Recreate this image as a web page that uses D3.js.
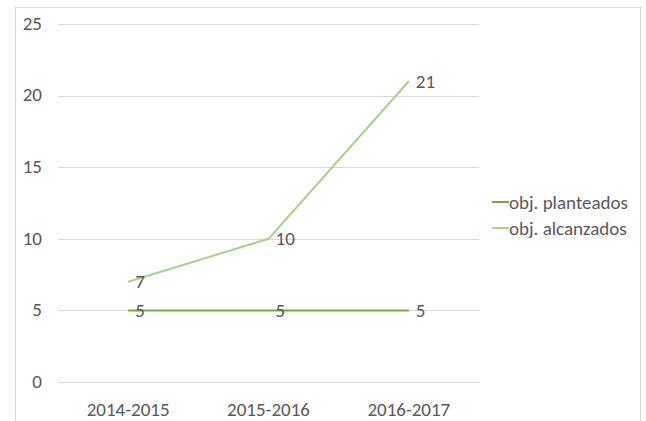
<!DOCTYPE html>
<meta charset="utf-8">
<script src="https://d3js.org/d3.v7.min.js"></script>
<style>
  body { margin: 0; background: #fff; }
  text { font-family: Carlito, Lato, "Liberation Sans", sans-serif; fill: #595959; }
</style>
<div id="chart"></div>
<script>
  // data
  var categories = ["2014-2015", "2015-2016", "2016-2017"];
  var planteados = [5, 5, 5];
  var alcanzados = [7, 10, 21];
  var seriesNames = ["obj. planteados", "obj. alcanzados"];
  var yTicks = [0, 5, 10, 15, 20, 25];

  var W = 646, H = 421, fs = 19;
  var svg = d3.select("#chart").append("svg")
    .attr("width", W).attr("height", H);

  // chart frame
  svg.append("rect")
    .attr("x", 15.5).attr("y", 7.5)
    .attr("width", 625).attr("height", 430)
    .attr("fill", "#fff").attr("stroke", "#d9d9d9");

  var m = { left: 58, right: 479, top: 24, bottom: 382 };

  var x = d3.scalePoint().domain(categories).range([m.left, m.right]).padding(0.5);
  var y = d3.scaleLinear().domain([0, 25]).range([m.bottom, m.top]);

  // grid
  svg.append("g").selectAll("line")
    .data(yTicks).enter().append("line")
    .attr("x1", m.left).attr("x2", m.right)
    .attr("y1", function(d) { return Math.round(y(d)) + 0.5; })
    .attr("y2", function(d) { return Math.round(y(d)) + 0.5; })
    .attr("stroke", "#d9d9d9").attr("stroke-width", 1);

  // y labels
  svg.append("g").selectAll("text")
    .data(yTicks).enter().append("text")
    .attr("x", 42).attr("y", function(d) { return y(d); })
    .attr("dy", "0.3em").attr("text-anchor", "end")
    .attr("font-size", fs)
    .text(function(d) { return d; });

  // x labels
  svg.append("g").selectAll("text")
    .data(categories).enter().append("text")
    .attr("x", function(d) { return x(d); }).attr("y", 416)
    .attr("text-anchor", "middle").attr("font-size", fs)
    .text(function(d) { return d; });

  var line = d3.line()
    .x(function(d, i) { return x(categories[i]); })
    .y(function(d) { return y(d); });

  var series = [
    { name: seriesNames[0], values: planteados, color: "#70ad47" },
    { name: seriesNames[1], values: alcanzados, color: "#a9d18e" }
  ];

  series.forEach(function(s) {
    svg.append("path").datum(s.values)
      .attr("d", line).attr("fill", "none")
      .attr("stroke", s.color).attr("stroke-width", 2);
  });

  // data labels
  series.forEach(function(s) {
    svg.append("g").selectAll("text")
      .data(s.values).enter().append("text")
      .attr("x", function(d, i) { return x(categories[i]) + 7; })
      .attr("y", function(d) { return y(d); })
      .attr("dy", "0.35em").attr("font-size", fs)
      .text(function(d) { return d; });
  });

  // legend
  var lg = svg.append("g").selectAll("g")
    .data(series).enter().append("g")
    .attr("transform", function(d, i) { return "translate(492," + (202 + i * 26) + ")"; });
  lg.append("line")
    .attr("x1", 0).attr("x2", 17).attr("y1", 0).attr("y2", 0)
    .attr("stroke", function(d) { return d.color; }).attr("stroke-width", 2);
  lg.append("text")
    .attr("x", 17).attr("dy", "0.35em").attr("font-size", fs)
    .text(function(d) { return d.name; });
</script>
